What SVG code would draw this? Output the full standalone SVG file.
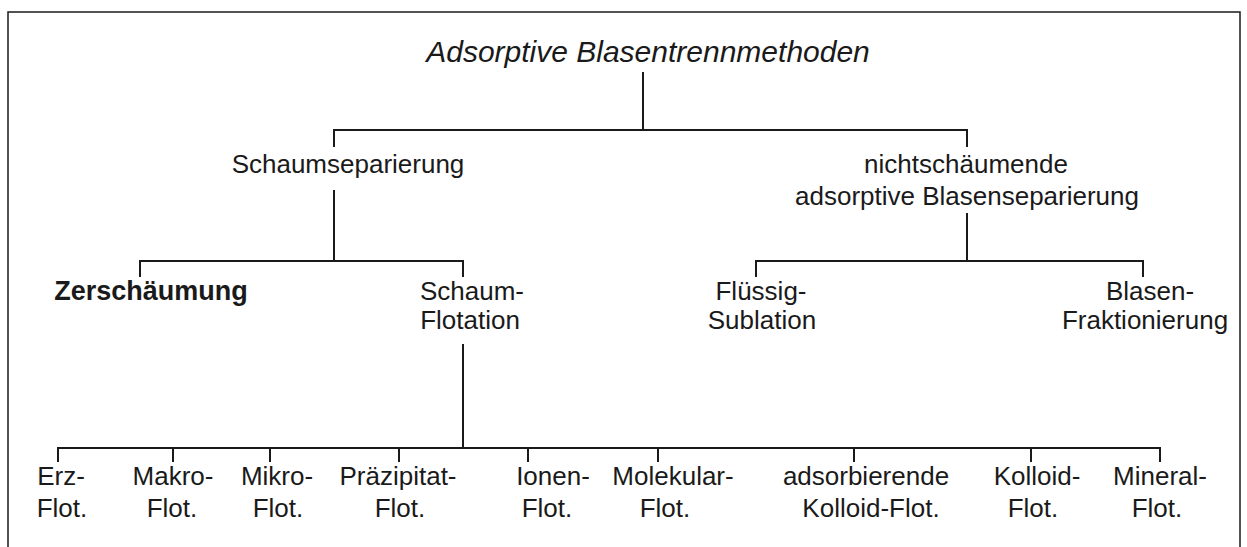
<svg xmlns="http://www.w3.org/2000/svg" width="1247" height="547" viewBox="0 0 1247 547">
<style>
text{font-family:"Liberation Sans",Arial,sans-serif;font-size:26px;fill:#1a1a1a;text-anchor:middle}
.title{font-size:30px;font-style:italic}
.bold{font-weight:bold;font-size:27px}
.c line{stroke:#1a1a1a;stroke-width:2;fill:none}
</style>
<rect x="0" y="0" width="1247" height="547" fill="#fff"/>
<rect x="8" y="12" width="1232" height="540" fill="none" stroke="#1a1a1a" stroke-width="1.5"/>
<g id="n-root"><text class="title" x="648" y="62">Adsorptive Blasentrennmethoden</text></g>
<g id="n-schaumsep"><text x="348" y="173">Schaumseparierung</text></g>
<g id="n-nichtschaum"><text x="966" y="173">nichtschäumende</text><text x="967" y="205">adsorptive Blasenseparierung</text></g>
<g id="n-zersch"><text class="bold" x="151" y="300">Zerschäumung</text></g>
<g id="n-schaumflot"><text x="472" y="300">Schaum-</text><text x="470" y="329">Flotation</text></g>
<g id="n-fluessig"><text x="761" y="300">Flüssig-</text><text x="762" y="329">Sublation</text></g>
<g id="n-blasenfrak"><text x="1150" y="300">Blasen-</text><text x="1145" y="329">Fraktionierung</text></g>
<g id="n-erz"><text x="61" y="485">Erz-</text><text x="62" y="517">Flot.</text></g>
<g id="n-makro"><text x="173" y="485">Makro-</text><text x="172" y="517">Flot.</text></g>
<g id="n-mikro"><text x="277" y="485">Mikro-</text><text x="278" y="517">Flot.</text></g>
<g id="n-praez"><text x="398" y="485">Präzipitat-</text><text x="400" y="517">Flot.</text></g>
<g id="n-ionen"><text x="553" y="485">Ionen-</text><text x="547" y="517">Flot.</text></g>
<g id="n-molek"><text x="673" y="485">Molekular-</text><text x="665" y="517">Flot.</text></g>
<g id="n-adsorb"><text x="866" y="485">adsorbierende</text><text x="871" y="517">Kolloid-Flot.</text></g>
<g id="n-kolloid"><text x="1037" y="485">Kolloid-</text><text x="1033" y="517">Flot.</text></g>
<g id="n-mineral"><text x="1160" y="485">Mineral-</text><text x="1157" y="517">Flot.</text></g>
<g id="connectors" class="c">
<line x1="643" y1="72" x2="643" y2="130"/>
<line x1="334" y1="130" x2="967" y2="130"/>
<line x1="334" y1="129" x2="334" y2="147"/>
<line x1="967" y1="129" x2="967" y2="147"/>
<line x1="334" y1="190" x2="334" y2="261"/>
<line x1="140" y1="261" x2="463" y2="261"/>
<line x1="140" y1="260" x2="140" y2="277"/>
<line x1="463" y1="260" x2="463" y2="277"/>
<line x1="967" y1="213" x2="967" y2="261"/>
<line x1="756" y1="261" x2="1143" y2="261"/>
<line x1="756" y1="260" x2="756" y2="277"/>
<line x1="1143" y1="260" x2="1143" y2="277"/>
<line x1="463" y1="344" x2="463" y2="448"/>
<line x1="58" y1="448" x2="1161" y2="448"/>
<line x1="58" y1="447" x2="58" y2="462"/>
<line x1="173" y1="447" x2="173" y2="462"/>
<line x1="270" y1="447" x2="270" y2="462"/>
<line x1="399" y1="447" x2="399" y2="462"/>
<line x1="528" y1="447" x2="528" y2="462"/>
<line x1="658" y1="447" x2="658" y2="462"/>
<line x1="854" y1="447" x2="854" y2="462"/>
<line x1="1031" y1="447" x2="1031" y2="462"/>
<line x1="1160" y1="447" x2="1160" y2="462"/>
</g>
</svg>
